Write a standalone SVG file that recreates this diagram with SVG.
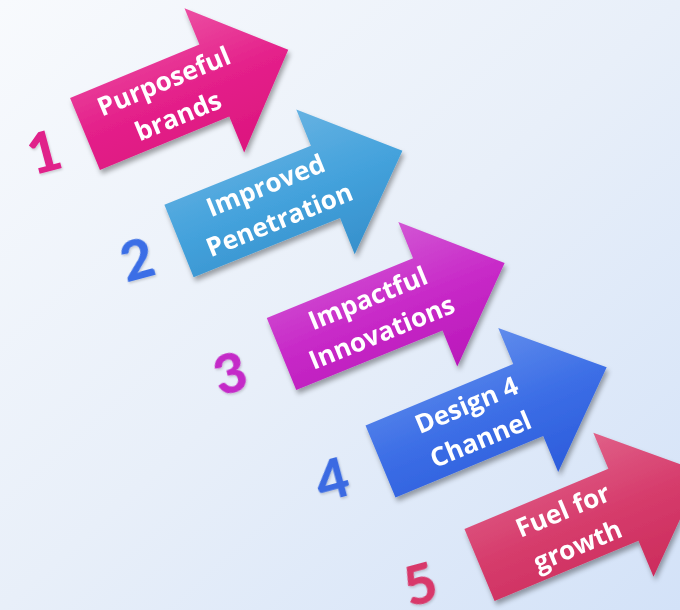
<svg xmlns="http://www.w3.org/2000/svg" width="680" height="610" viewBox="0 0 680 610">
  <defs>
    <linearGradient id="bg" x1="0" y1="0" x2="1" y2="1">
      <stop offset="0" stop-color="#f8fafd"/>
      <stop offset="0.5" stop-color="#e8eff9"/>
      <stop offset="1" stop-color="#d3e2f8"/>
    </linearGradient>
    <linearGradient id="gPink" x1="0" y1="0" x2="0" y2="1">
      <stop offset="0" stop-color="#ec4ea2"/>
      <stop offset="0.5" stop-color="#e4208a"/>
      <stop offset="1" stop-color="#dc157e"/>
    </linearGradient>
    <linearGradient id="gSky" x1="0" y1="0" x2="0" y2="1">
      <stop offset="0" stop-color="#66b2e2"/>
      <stop offset="0.5" stop-color="#44a2dc"/>
      <stop offset="1" stop-color="#3690cc"/>
    </linearGradient>
    <linearGradient id="gViolet" x1="0" y1="0" x2="0" y2="1">
      <stop offset="0" stop-color="#d256d4"/>
      <stop offset="0.5" stop-color="#c82ac8"/>
      <stop offset="1" stop-color="#ba18ba"/>
    </linearGradient>
    <linearGradient id="gBlue" x1="0" y1="0" x2="0" y2="1">
      <stop offset="0" stop-color="#608cec"/>
      <stop offset="0.5" stop-color="#3c6ee6"/>
      <stop offset="1" stop-color="#2c5cdc"/>
    </linearGradient>
    <linearGradient id="gRose" x1="0" y1="0" x2="0" y2="1">
      <stop offset="0" stop-color="#e06088"/>
      <stop offset="0.5" stop-color="#d63c6c"/>
      <stop offset="1" stop-color="#cc2c5c"/>
    </linearGradient>
    <filter id="shadow" x="-20%" y="-20%" width="140%" height="140%">
      <feDropShadow dx="2" dy="4" stdDeviation="2.5" flood-color="#000" flood-opacity="0.35"/>
    </filter>
    <filter id="numShadow" x="-30%" y="-30%" width="160%" height="160%">
      <feDropShadow dx="1" dy="1.5" stdDeviation="1" flood-color="#000" flood-opacity="0.18"/>
    </filter>
  </defs>
  <style>
    .label { font-family: "Open Sans", "Liberation Sans", sans-serif; font-weight: 700; font-size: 26px; fill: #ffffff; text-anchor: middle; }
    .num { font-family: Lato, "Open Sans", sans-serif; font-weight: 900; font-size: 56px; text-anchor: middle; }
  </style>

  <rect width="680" height="610" fill="url(#bg)"/>

  <!-- step numbers -->
  <g id="numbers" filter="url(#numShadow)">
    <text class="num" fill="#e0208a" transform="translate(44,152) rotate(-15)" y="20">1</text>
    <text class="num" fill="#3a6ee6" transform="translate(137,259) rotate(-15)" y="20">2</text>
    <text class="num" fill="#c42cc8" transform="translate(230,373) rotate(-15)" y="20">3</text>
    <text class="num" fill="#3a6ae2" transform="translate(332,479) rotate(-15)" y="20">4</text>
    <text class="num" fill="#d8386a" transform="translate(420,584) rotate(-15)" y="20">5</text>
  </g>

  <!-- block arrows, drawn in local coords from the middle of the tail edge -->
  <g id="arrow1" filter="url(#shadow)">
    <g transform="translate(85,134) rotate(-22.5)">
      <path d="M0,-39 H140 V-78 L220,0 L140,78 V39 H0 Z" fill="url(#gPink)"/>
      <text class="label" x="93" y="-9.5">Purposeful</text>
      <text class="label" x="93" y="28">brands</text>
    </g>
  </g>

  <g id="arrow2" filter="url(#shadow)">
    <g transform="translate(179,241) rotate(-22)">
      <path d="M0,-39 H158 V-78 L241,0 L158,78 V39 H0 Z" fill="url(#gSky)"/>
      <text class="label" x="101" y="-10">Improved</text>
      <text class="label" x="101" y="27">Penetration</text>
    </g>
  </g>

  <g id="arrow3" filter="url(#shadow)">
    <g transform="translate(281.5,354) rotate(-22.2)">
      <path d="M0,-39 H158 V-78 L241,0 L158,78 V39 H0 Z" fill="url(#gViolet)"/>
      <text class="label" x="101" y="-10">Impactful</text>
      <text class="label" x="101" y="27">Innovations</text>
    </g>
  </g>

  <g id="arrow4" filter="url(#shadow)">
    <g transform="translate(380.5,461.5) rotate(-22.6)">
      <path d="M0,-39 H160 V-78 L245,0 L160,78 V39 H0 Z" fill="url(#gBlue)"/>
      <text class="label" x="101" y="-10">Design 4</text>
      <text class="label" x="101" y="27">Channel</text>
    </g>
  </g>

  <g id="arrow5" filter="url(#shadow)">
    <g transform="translate(479.5,565) rotate(-22.7)">
      <path d="M0,-39 H156 V-78 L241,0 L156,78 V39 H0 Z" fill="url(#gRose)"/>
      <text class="label" x="98" y="-9">Fuel for</text>
      <text class="label" x="98" y="29">growth</text>
    </g>
  </g>

  <g id="connectors"/>
</svg>
